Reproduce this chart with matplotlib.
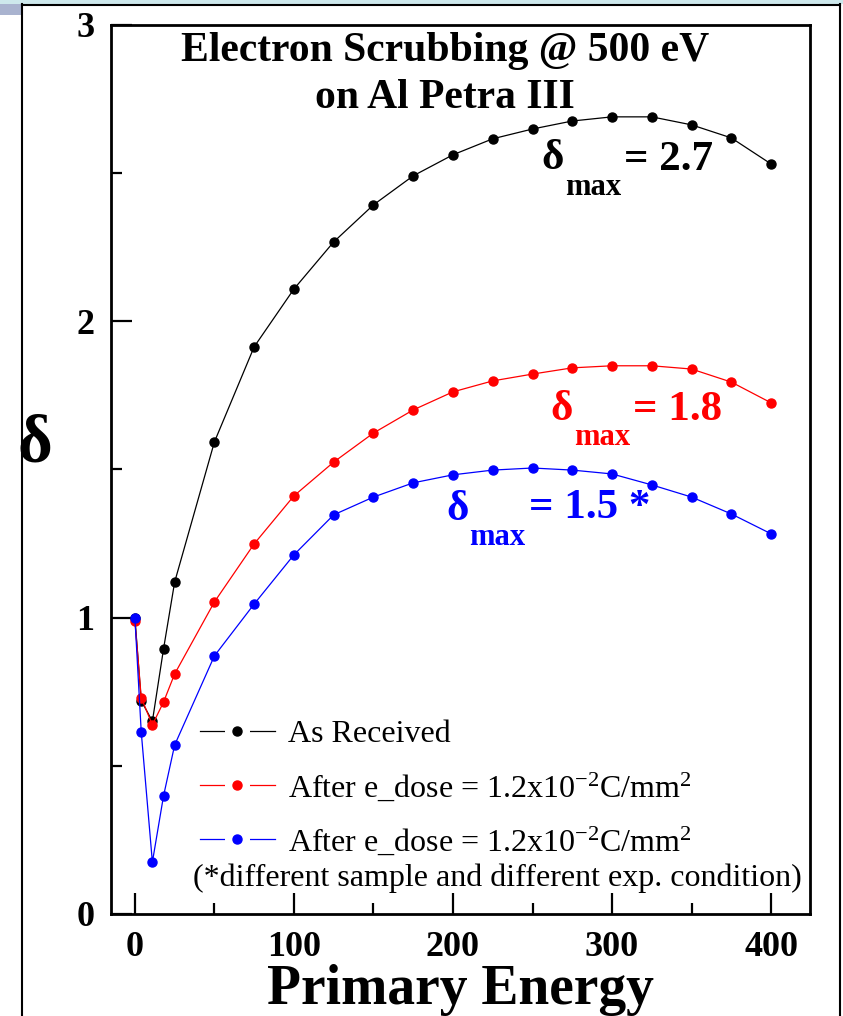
import matplotlib.pyplot as plt
from matplotlib.lines import Line2D
from matplotlib.patches import Rectangle

plt.rcParams["font.family"] = ["Liberation Serif", "DejaVu Serif"]
plt.rcParams["mathtext.fontset"] = "custom"
plt.rcParams["mathtext.rm"] = "Liberation Serif"
plt.rcParams["mathtext.it"] = "Liberation Serif:italic"
plt.rcParams["mathtext.bf"] = "Liberation Serif:bold"

# ========= 数据 =========
energy = [0, 4, 11, 18, 25, 50, 75, 100, 125, 150, 175, 200,
          225, 250, 275, 300, 325, 350, 375, 400]

as_received = [1.00, 0.72, 0.65, 0.894, 1.12, 1.593, 1.914, 2.109, 2.268, 2.393,
               2.491, 2.562, 2.616, 2.649, 2.676, 2.690, 2.690, 2.663, 2.619, 2.531]

after_dose = [0.99, 0.73, 0.638, 0.715, 0.81, 1.053, 1.249, 1.411, 1.525, 1.623,
              1.701, 1.762, 1.799, 1.822, 1.843, 1.850, 1.850, 1.839, 1.795, 1.725]

after_dose_2 = [1.00, 0.614, 0.175, 0.398, 0.57, 0.871, 1.046, 1.212, 1.347, 1.407,
                1.455, 1.482, 1.498, 1.505, 1.498, 1.485, 1.448, 1.407, 1.350, 1.283]

series_labels = [
    "As Received",
    r"After e_dose = 1.2x10$^{-2}$C/mm$^{2}$",
    r"After e_dose = 1.2x10$^{-2}$C/mm$^{2}$",
]
series_colors = ["black", "red", "blue"]

delta_max = ["2.7", "1.8", "1.5 *"]

# ========= 画布 =========
fig = plt.figure(figsize=(8.43, 10.16), dpi=100)

# 幻灯片边框
fig.add_artist(Rectangle((0, 0.996), 1, 0.004, transform=fig.transFigure,
                         color="#cde8ec", lw=0, zorder=0))
fig.add_artist(Rectangle((0, 0.985), 0.026, 0.011, transform=fig.transFigure,
                         color="#a9b3cf", lw=0, zorder=0))
fig.add_artist(Line2D([0.0265, 0.0265], [0, 0.996], transform=fig.transFigure,
                      color="black", lw=1.5))
fig.add_artist(Line2D([0.9965, 0.9965], [0, 0.996], transform=fig.transFigure,
                      color="black", lw=1.5))
fig.add_artist(Line2D([0.0265, 0.9965], [0.9955, 0.9955], transform=fig.transFigure,
                      color="black", lw=1.5))

ax = fig.add_axes([0.1317, 0.1004, 0.8292, 0.875])

for ys, c in zip([as_received, after_dose, after_dose_2], series_colors):
    ax.plot(energy, ys, color=c, lw=0.9, marker="o", ms=6.5, mec=c, mfc=c)

ax.set_xlim(-15, 424.5)
ax.set_ylim(0, 3)
ax.set_xticks([0, 100, 200, 300, 400])
ax.set_xticks([50, 150, 250, 350], minor=True)
ax.set_yticks([0, 1, 2, 3])
ax.set_yticks([0.5, 1.5, 2.5], minor=True)
ax.tick_params(which="both", direction="in", width=1.6, top=False, right=False)
ax.tick_params(which="major", length=15, labelsize=26)
ax.tick_params(axis="x", which="major", pad=12)
ax.tick_params(axis="y", which="major", pad=12)
ax.tick_params(which="minor", length=8)
for lab in ax.get_xticklabels() + ax.get_yticklabels():
    lab.set_fontweight("bold")
for s in ax.spines.values():
    s.set_linewidth(2.0)

ax.set_xlabel("Primary Energy", fontsize=40, fontweight="bold", va="baseline")
ax.xaxis.set_label_coords(0.4993, -0.1015)
ax.set_ylabel("δ", fontsize=48, fontweight="bold", rotation=0, va="center")
ax.yaxis.set_label_coords(-0.109, 0.528)

ax.text(0.478, 0.944, "Electron Scrubbing @ 500 eV\non Al Petra III",
        transform=ax.transAxes, ha="center", va="center",
        fontsize=30, fontweight="bold", linespacing=1.3)


def to_ax(px, py):
    return (px - 111) / 699, (914 - py) / 889


# δmax 标注
note_pos = [(553, 159, 593, 188, 668, 160),
            (562, 410, 602, 438, 677, 410),
            (458, 510, 497, 538, 590, 508)]
for (dx, dy, mx, my, vx, vy), val, c in zip(note_pos, delta_max, series_colors):
    ax.text(*to_ax(dx, dy), "δ", transform=ax.transAxes, ha="center", va="center",
            fontsize=31, fontweight="bold", color=c)
    ax.text(*to_ax(mx, my), "max", transform=ax.transAxes, ha="center", va="center",
            fontsize=22, fontweight="bold", color=c)
    ax.text(*to_ax(vx, vy), "= " + val, transform=ax.transAxes, ha="center", va="center",
            fontsize=31, fontweight="bold", color=c)

# 图例：线 - 点 - 线，点两侧留白
handles = []
for c in series_colors:
    ln = Line2D([], [], color=c, lw=0.9)
    gap = Line2D([], [], ls="none", marker="o", ms=17, mfc="white", mec="white")
    dot = Line2D([], [], ls="none", marker="o", ms=6.5, mfc=c, mec=c)
    handles.append((ln, gap, dot))
ax.legend(handles, series_labels, loc="center left", bbox_to_anchor=(0.127, 0.141),
          frameon=False, fontsize=23, handlelength=2.35, handletextpad=0.4,
          labelspacing=0.67, borderaxespad=0, borderpad=0)
ax.text(0.1173, 0.0405, "(*different sample and different exp. condition)",
        transform=ax.transAxes, ha="left", va="center", fontsize=23)

fig.savefig("out.png", dpi=100)
